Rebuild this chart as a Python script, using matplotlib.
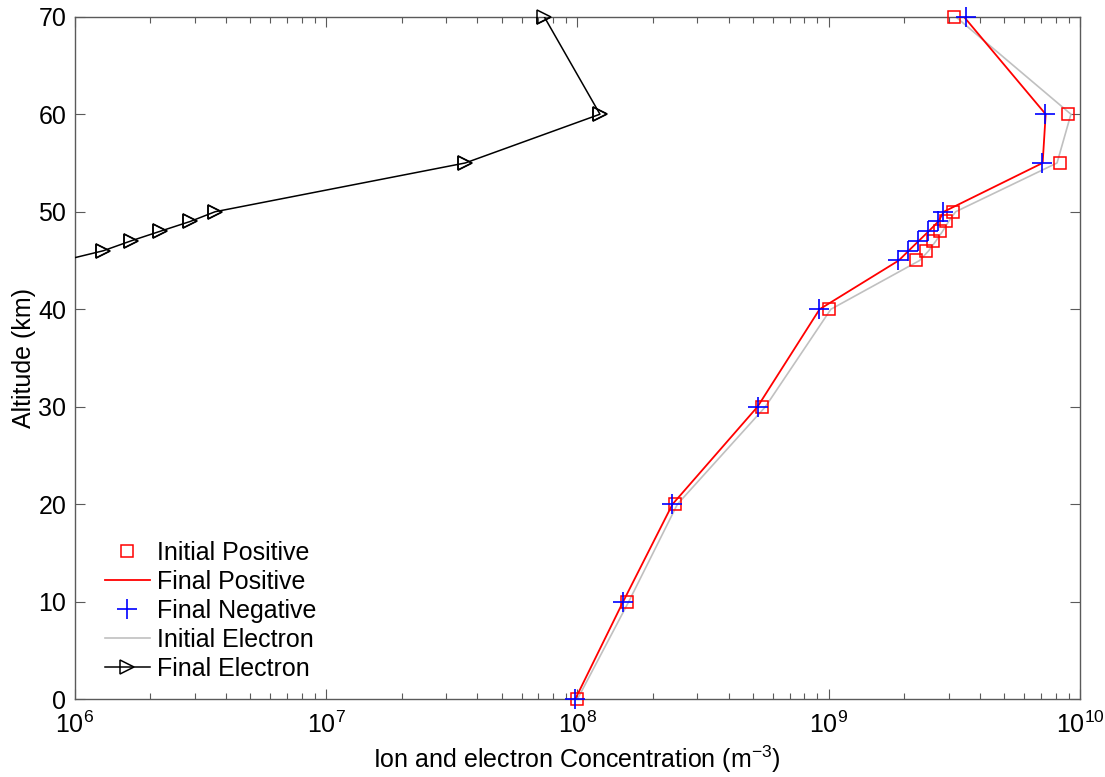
import matplotlib
matplotlib.use('Agg')
import matplotlib.pyplot as plt
from matplotlib.ticker import LogLocator, NullFormatter

plt.rcParams['font.family'] = ['Liberation Sans', 'DejaVu Sans']
plt.rcParams['mathtext.fontset'] = 'custom'
plt.rcParams['mathtext.rm'] = 'Liberation Sans'
plt.rcParams['mathtext.it'] = 'Liberation Sans'
plt.rcParams['mathtext.bf'] = 'Liberation Sans'

# altitude levels (km)
alt = [0, 10, 20, 30, 40, 45, 46, 47, 48, 49, 50, 55, 60, 70]

# concentrations (m^-3)
init_pos = [1.0e8, 1.58e8, 2.45e8, 5.43e8, 1.0e9, 2.23e9, 2.44e9, 2.61e9,
            2.78e9, 2.94e9, 3.13e9, 8.34e9, 8.97e9, 3.16e9]
final_pos = [9.8e7, 1.52e8, 2.39e8, 5.21e8, 9.2e8, 1.9e9, 2.08e9, 2.28e9,
             2.5e9, 2.73e9, 2.87e9, 7.1e9, 7.3e9, 3.45e9]
final_neg = [9.8e7, 1.52e8, 2.39e8, 5.21e8, 9.18e8, 1.89e9, 2.07e9, 2.27e9,
             2.49e9, 2.73e9, 2.86e9, 7.08e9, 7.28e9, 3.52e9]
init_elec = [1.0e8, 1.6e8, 2.5e8, 5.6e8, 1.02e9, 2.3e9, 2.5e9, 2.67e9,
             2.84e9, 3.0e9, 3.2e9, 8.1e9, 9.2e9, 3.2e9]
final_elec = [9.0e5, 1.30e6, 1.67e6, 2.19e6, 2.88e6, 3.62e6, 3.58e7,
              1.23e8, 7.38e7]
alt_elec = [45, 46, 47, 48, 49, 50, 55, 60, 70]

xmin, xmax = 1e6, 1e10

fig = plt.figure(figsize=(11.05, 7.77), dpi=100)
ax = fig.add_axes([0.0676, 0.1, 0.9098, 0.8785])

# markers sit on top of the frame like in matlab, so no clipping for them
ax.semilogx(init_pos, alt, 's', color='red', mfc='none', ms=9, mew=1.1,
            label='Initial Positive', zorder=4, clip_on=False)
ax.semilogx(final_pos, alt, '-', color='red', lw=1.3, label='Final Positive', zorder=3)
ax.semilogx(final_neg, alt, '+', color='blue', ms=14, mew=1.2,
            label='Final Negative', zorder=5, clip_on=False)
ax.semilogx(init_elec, alt, '-', color='#c0c0c0', lw=1.2, label='Initial Electron', zorder=2)
ax.semilogx(final_elec, alt_elec, '->', color='black', mfc='none', ms=10, mew=1.1,
            lw=1.1, label='Final Electron', zorder=3)
inside = [i for i, v in enumerate(final_elec) if xmin <= v <= xmax]
ax.semilogx(final_elec, alt_elec, '>', color='black', mfc='none', ms=10, mew=1.1,
            markevery=inside, zorder=3, clip_on=False)

ax.set_xlim(xmin, xmax)
ax.set_ylim(0, 70)
ax.xaxis.set_major_locator(LogLocator(base=10, numticks=10))
ax.xaxis.set_minor_locator(LogLocator(base=10, subs=range(2, 10), numticks=20))
ax.xaxis.set_minor_formatter(NullFormatter())
ax.set_yticks(range(0, 71, 10))

for s in ax.spines.values():
    s.set_color('#5a5a5a')
    s.set_linewidth(1.0)
ax.tick_params(which='both', direction='in', top=True, right=True,
               color='#5a5a5a', labelsize=18)
ax.tick_params(which='major', length=7, width=0.8)
ax.tick_params(which='minor', length=4, width=0.8)
ax.tick_params(axis='x', which='major', pad=9)
ax.tick_params(axis='y', which='major', pad=6)

ax.set_xlabel(r'Ion and electron Concentration (m$^{-3}$)', fontsize=18, labelpad=4)
ax.set_ylabel('Altitude (km)', fontsize=18, labelpad=2)

ax.legend(loc='lower left', bbox_to_anchor=(0.03, 0.027), frameon=False,
          fontsize=18, numpoints=1, handlelength=1.8, handletextpad=0.27,
          labelspacing=0.2, borderpad=0, borderaxespad=0)

plt.savefig('out.png', dpi=100)
